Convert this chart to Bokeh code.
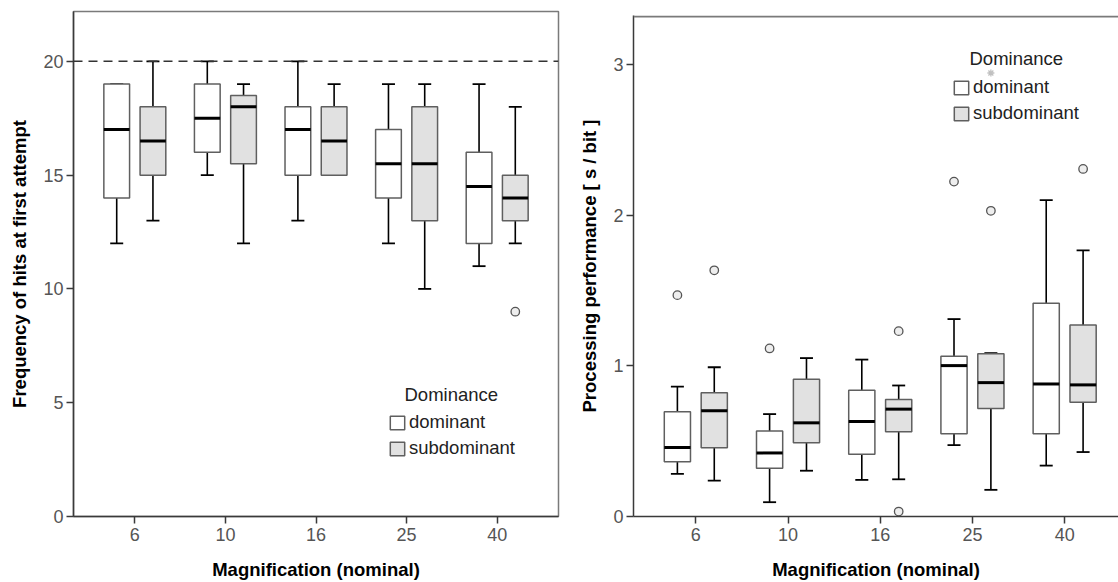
from bokeh.plotting import figure
from bokeh.models import Range1d, FixedTicker, ColumnDataSource, Span, Legend, LegendItem, Label, Spacer
from bokeh.layouts import row, column
from bokeh.transform import dodge
from bokeh.embed import file_html
from bokeh.resources import INLINE

# ---------------- data ----------------
magnification = ["6", "10", "16", "25", "40"]
dominance = ["dominant", "subdominant"]

# Left chart: Frequency of hits at first attempt (box-plot statistics)
hits_dom_low = [12, 15, 13, 12, 11]
hits_dom_q1 = [14, 16, 15, 14, 12]
hits_dom_med = [17, 17.5, 17, 15.5, 14.5]
hits_dom_q3 = [19, 19, 18, 17, 16]
hits_dom_high = [19, 20, 20, 19, 19]

hits_sub_low = [13, 12, 15, 10, 12]
hits_sub_q1 = [15, 15.5, 15, 13, 13]
hits_sub_med = [16.5, 18, 16.5, 15.5, 14]
hits_sub_q3 = [18, 18.5, 18, 18, 15]
hits_sub_high = [20, 19, 19, 19, 18]

hits_out_dom_group, hits_out_dom_val = [], []
hits_out_sub_group, hits_out_sub_val = ["40"], [9]
max_hits = 20

# Right chart: Processing performance [s / bit]
perf_dom_low = [0.283, 0.095, 0.243, 0.474, 0.338]
perf_dom_q1 = [0.364, 0.320, 0.413, 0.549, 0.549]
perf_dom_med = [0.459, 0.422, 0.631, 1.002, 0.880]
perf_dom_q3 = [0.695, 0.567, 0.838, 1.064, 1.416]
perf_dom_high = [0.863, 0.680, 1.042, 1.311, 2.101]

perf_sub_low = [0.238, 0.304, 0.247, 0.177, 0.428]
perf_sub_q1 = [0.457, 0.490, 0.563, 0.717, 0.759]
perf_sub_med = [0.702, 0.622, 0.713, 0.889, 0.874]
perf_sub_q3 = [0.821, 0.911, 0.777, 1.081, 1.271]
perf_sub_high = [0.991, 1.052, 0.870, 1.085, 1.767]

perf_out_dom_group, perf_out_dom_val = ["6", "10", "25"], [1.470, 1.116, 2.224]
perf_out_sub_group, perf_out_sub_val = ["6", "16", "16", "25", "40"], [1.635, 1.231, 0.033, 2.030, 2.308]
perf_ext_sub_group, perf_ext_sub_val = ["25"], [2.945]

# ---------------- styling ----------------
FONT = "Liberation Sans"
OFFSET = 0.2
BOX_W = 0.284
FILLS = {"dominant": "white", "subdominant": "#e1e1e1"}
BOX_LINE = "#5f5f5f"


def style_axes(p, ylabel):
    for ax in (p.xaxis[0], p.yaxis[0]):
        ax.axis_line_color = "#3a3a3a"
        ax.axis_line_width = 1.5
        ax.major_tick_line_color = "#3a3a3a"
        ax.major_tick_line_width = 1.5
        ax.major_tick_out = 7
        ax.major_tick_in = 0
        ax.minor_tick_line_color = None
        ax.major_label_text_font = FONT
        ax.major_label_text_font_size = "18px"
        ax.major_label_text_color = "#555555"
        ax.axis_label_text_font = FONT
        ax.axis_label_text_font_size = "18.5px"
        ax.axis_label_text_font_style = "bold"
        ax.axis_label_text_color = "black"
    p.xaxis[0].ticker = FixedTicker(ticks=list(range(len(magnification))))
    p.xaxis[0].major_label_overrides = {i: m for i, m in enumerate(magnification)}
    p.xaxis[0].axis_label = "Magnification (nominal)"
    p.xaxis[0].major_label_standoff = 4
    p.xaxis[0].axis_label_standoff = 15
    p.yaxis[0].axis_label = ylabel
    p.yaxis[0].major_label_standoff = 3
    p.yaxis[0].axis_label_standoff = 10
    p.xgrid.visible = False
    p.ygrid.visible = False


def draw_boxes(p, stats, offset, fill):
    low, q1, med, q3, high = stats
    src = ColumnDataSource(dict(idx=list(range(len(magnification))), low=low, q1=q1, med=med, q3=q3, high=high))
    x = dodge("idx", offset)
    p.segment(x0=x, y0="q3", x1=x, y1="high", source=src, line_color="black", line_width=1.6)
    p.segment(x0=x, y0="q1", x1=x, y1="low", source=src, line_color="black", line_width=1.6)
    p.scatter(x=x, y="high", source=src, marker="dash", size=13, line_color="black", line_width=1.8)
    p.scatter(x=x, y="low", source=src, marker="dash", size=13, line_color="black", line_width=1.8)
    box = p.vbar(x=x, width=BOX_W, bottom="q1", top="q3", source=src,
                 fill_color=fill, line_color=BOX_LINE, line_width=1.5)
    p.segment(x0=dodge("idx", offset - BOX_W / 2), y0="med", x1=dodge("idx", offset + BOX_W / 2), y1="med",
              source=src, line_color="black", line_width=3)
    return box


def draw_points(p, groups, vals, offset, marker="circle", size=8.5, color="#555555", fill="#eeeeee"):
    if not groups:
        return
    src = ColumnDataSource(dict(idx=[magnification.index(g) for g in groups], v=vals))
    p.scatter(x=dodge("idx", offset), y="v", source=src, marker=marker, size=size,
              line_color=color, fill_color=fill, line_width=1.3)


def add_legend(p, boxes, lx, ly, tx, ty):
    leg = Legend(items=[LegendItem(label=d, renderers=[b]) for d, b in zip(dominance, boxes)],
                 location=(lx, ly), orientation="vertical", border_line_color=None,
                 background_fill_alpha=0, padding=0, margin=0, glyph_width=18, glyph_height=17,
                 label_standoff=3, spacing=4, label_height=17,
                 label_text_font=FONT, label_text_font_size="18.5px", label_text_color="#222222")
    p.add_layout(leg)
    p.add_layout(Label(x=tx, y=ty, x_units="screen", y_units="screen", text="Dominance",
                       text_font=FONT, text_font_size="18.5px", text_color="#222222",
                       text_baseline="alphabetic"))


# ---------------- left chart ----------------
p1 = figure(width=560, height=582, x_range=Range1d(-0.677, 4.677), y_range=Range1d(0, 22.19),
            min_border_left=73, min_border_right=2, min_border_top=11, min_border_bottom=65,
            toolbar_location=None, output_backend="svg", title=None)
p1.outline_line_color = "#7a7a7a"
p1.outline_line_width = 1.5
style_axes(p1, "Frequency of hits at first attempt")
p1.yaxis[0].ticker = FixedTicker(ticks=[0, 5, 10, 15, 20])
p1.add_layout(Span(location=max_hits, dimension="width", line_color="#333333", line_width=1.5, line_dash="9 6"))
b1 = draw_boxes(p1, (hits_dom_low, hits_dom_q1, hits_dom_med, hits_dom_q3, hits_dom_high), -OFFSET, FILLS["dominant"])
b2 = draw_boxes(p1, (hits_sub_low, hits_sub_q1, hits_sub_med, hits_sub_q3, hits_sub_high), OFFSET, FILLS["subdominant"])
draw_points(p1, hits_out_dom_group, hits_out_dom_val, -OFFSET)
draw_points(p1, hits_out_sub_group, hits_out_sub_val, OFFSET)
add_legend(p1, [b1, b2], 315, 57, 331, 122)

# ---------------- right chart ----------------
y2_end = 3.327
y2_top_line = 3.321
p2 = figure(width=558, height=578, x_range=Range1d(-0.676, 4.584), y_range=Range1d(0, y2_end),
            min_border_left=73, min_border_right=0, min_border_top=11, min_border_bottom=65,
            toolbar_location=None, output_backend="svg", title=None)
p2.outline_line_color = None
style_axes(p2, "Processing performance [ s / bit ]")
p2.yaxis[0].ticker = FixedTicker(ticks=[0, 1, 2, 3])
p2.add_layout(Span(location=y2_top_line, dimension="width", line_color="#7a7a7a", line_width=2))
draw_points(p2, perf_ext_sub_group, perf_ext_sub_val, OFFSET, marker="asterisk", size=7, color="#c0c0c0", fill="#c0c0c0")
c1 = draw_boxes(p2, (perf_dom_low, perf_dom_q1, perf_dom_med, perf_dom_q3, perf_dom_high), -OFFSET, FILLS["dominant"])
c2 = draw_boxes(p2, (perf_sub_low, perf_sub_q1, perf_sub_med, perf_sub_q3, perf_sub_high), OFFSET, FILLS["subdominant"])
draw_points(p2, perf_out_dom_group, perf_out_dom_val, -OFFSET)
draw_points(p2, perf_out_sub_group, perf_out_sub_val, OFFSET)
add_legend(p2, [c1, c2], 319, 392, 336, 458)

layout = row(p1, column(Spacer(width=558, height=4), p2))
open("out.html", "w").write(file_html(layout, INLINE))
